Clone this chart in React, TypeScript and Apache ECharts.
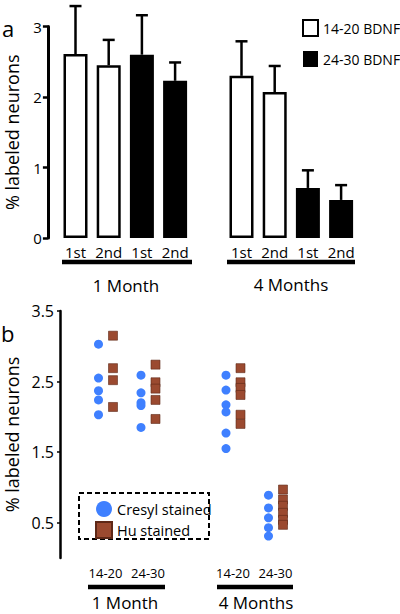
import React, { useEffect, useRef } from "react";
import * as echarts from "echarts";

// ---- Panel a data ----
const sessions = ["1st", "2nd", "1st", "2nd", "", "1st", "2nd", "1st", "2nd"];
const bdnfGroups = ["14-20 BDNF", "24-30 BDNF"];
const ages = ["1 Month", "4 Months"];
// slot indices for each group's bars: [1M 1st, 1M 2nd, 4M 1st, 4M 2nd]
const slots1420 = [0, 1, 5, 6];
const slots2430 = [2, 3, 7, 8];
const mean1420 = [2.61, 2.45, 2.3, 2.07];
const sem1420 = [0.68, 0.36, 0.49, 0.37];
const mean2430 = [2.6, 2.23, 0.71, 0.54];
const sem2430 = [0.56, 0.26, 0.25, 0.21];
const yTicksA = [0, 1, 2, 3];

// ---- Panel b data ----
const ageGroupSlots = ["1M|14-20", "1M|24-30", "", "4M|14-20", "4M|24-30"];
const cresyl = [
  [3.03, 2.55, 2.37, 2.24, 2.03],
  [2.59, 2.34, 2.2, 2.16, 1.85],
  [],
  [2.59, 2.38, 2.17, 2.07, 1.77, 1.55],
  [0.89, 0.71, 0.57, 0.43, 0.31],
];
const hu = [
  [3.15, 2.69, 2.52, 2.14],
  [2.74, 2.49, 2.4, 2.24, 1.97],
  [],
  [2.69, 2.49, 2.41, 2.31, 2.03, 1.9],
  [0.97, 0.83, 0.74, 0.64, 0.54, 0.47],
];
const yTicksB = [0.5, 1.5, 2.5, 3.5];
const stainNames = ["Cresyl stained", "Hu stained"];

const FONT = "'Open Sans', 'Noto Sans', sans-serif";
const BLUE = "#3f80ff";
const BROWN = "#9b4a30";

export default function App() {
  const ref = useRef<HTMLDivElement>(null);
  useEffect(() => {
    if (!ref.current) return;
    const chart = echarts.init(ref.current, undefined, { renderer: "svg" });

    const barData = (slots: number[], vals: number[]) =>
      sessions.map((_, i) => {
        const k = slots.indexOf(i);
        return k >= 0 ? vals[k] : "-";
      });
    const errData: number[][] = [];
    slots1420.forEach((s, k) => errData.push([s, mean1420[k], mean1420[k] + sem1420[k]]));
    slots2430.forEach((s, k) => errData.push([s, mean2430[k], mean2430[k] + sem2430[k]]));

    const scatterData = (arr: number[][]) => {
      const out: any[] = [];
      arr.forEach((vals, i) => vals.forEach((v) => out.push([i, v])));
      return out;
    };

    const txt = (text: string, x: number, y: number, size: number, align = "center", base = "middle") => ({
      type: "text",
      x,
      y,
      style: { text, fill: "#000", font: `${size}px ${FONT}`, align, verticalAlign: base },
    });
    const hline = (x1: number, x2: number, y: number) => ({
      type: "line",
      shape: { x1, y1: y, x2, y2: y },
      style: { stroke: "#000", lineWidth: 4.5 },
    });

    chart.setOption({
      animation: false,
      backgroundColor: "#fff",
      textStyle: { fontFamily: FONT, color: "#000" },
      grid: [
        { left: 58.9, top: 26.5, width: 298.8, height: 211.5, containLabel: false, outerBoundsMode: "none" },
        { left: 84.25, top: 311, width: 212.5, height: 247, containLabel: false, outerBoundsMode: "none" },
      ],
      legend: [
        {
          orient: "vertical",
          left: 297,
          top: 14,
          itemWidth: 15,
          itemHeight: 16,
          itemGap: 14,
          selectedMode: false,
          textStyle: { fontSize: 14, color: "#000", fontFamily: FONT },
          data: [
            { name: bdnfGroups[0], icon: "rect", itemStyle: { color: "#fff", borderColor: "#000", borderWidth: 2 } },
            { name: bdnfGroups[1], icon: "rect", itemStyle: { color: "#000", borderColor: "#000", borderWidth: 0 } },
          ],
        },
        {
          orient: "vertical",
          left: 90,
          top: 496,
          itemWidth: 16,
          itemHeight: 16,
          itemGap: 4,
          selectedMode: false,
          textStyle: { fontSize: 14.5, color: "#000", fontFamily: FONT },
          data: [
            { name: stainNames[0], icon: "circle" },
            { name: stainNames[1], icon: "rect" },
          ],
        },
      ],
      xAxis: [
        {
          type: "category",
          gridIndex: 0,
          data: sessions.map((s, i) => `${i}|${s}`),
          axisLine: { show: false },
          axisTick: { show: false },
          axisLabel: {
            interval: 0,
            margin: 6,
            fontSize: 15,
            color: "#000",
            fontFamily: FONT,
            formatter: (v: string) => v.split("|")[1],
          },
        },
        {
          type: "category",
          gridIndex: 1,
          data: ageGroupSlots.map((s, i) => `${i}#${s}`),
          axisLine: { show: false },
          axisTick: { show: false },
          axisLabel: {
            interval: 0,
            margin: 8,
            fontSize: 13,
            fontWeight: 500,
            color: "#000",
            fontFamily: FONT,
            formatter: (v: string) => {
              const p = v.split("#")[1];
              return p ? p.split("|")[1] : "";
            },
          },
        },
      ],
      yAxis: [
        {
          type: "value",
          gridIndex: 0,
          min: yTicksA[0],
          max: yTicksA[yTicksA.length - 1],
          interval: 1,
          offset: 11,
          name: "% labeled neurons",
          nameLocation: "middle",
          nameGap: 27,
          nameTextStyle: { fontSize: 18, color: "#000", fontFamily: FONT },
          axisLine: { show: true, lineStyle: { color: "#000", width: 3 } },
          axisTick: { show: true, length: 5, lineStyle: { color: "#000", width: 2.5 } },
          axisLabel: { margin: 6, fontSize: 15, color: "#000", fontFamily: FONT },
          splitLine: { show: false },
        },
        {
          type: "value",
          gridIndex: 1,
          min: 0,
          max: 3.5,
          interval: 0.5,
          offset: 24.25,
          name: "% labeled neurons",
          nameLocation: "middle",
          nameGap: 38,
          nameTextStyle: { fontSize: 18, color: "#000", fontFamily: FONT },
          axisLine: { show: true, lineStyle: { color: "#000", width: 2.5 } },
          axisTick: { show: true, length: 3, customValues: yTicksB, lineStyle: { color: "#000", width: 1.5 } },
          axisLabel: { margin: 6, fontSize: 16, color: "#000", fontFamily: FONT, customValues: yTicksB },
          splitLine: { show: false },
        },
      ],
      series: [
        {
          name: bdnfGroups[0],
          type: "bar",
          xAxisIndex: 0,
          yAxisIndex: 0,
          barWidth: 24,
          barGap: "-100%",
          data: barData(slots1420, mean1420),
          itemStyle: { color: "#fff", borderColor: "#000", borderWidth: 2.5 },
        },
        {
          name: bdnfGroups[1],
          type: "bar",
          xAxisIndex: 0,
          yAxisIndex: 0,
          barWidth: 24,
          barGap: "-100%",
          data: barData(slots2430, mean2430),
          itemStyle: { color: "#000", borderColor: "#000", borderWidth: 0 },
        },
        {
          type: "custom",
          xAxisIndex: 0,
          yAxisIndex: 0,
          clip: false,
          z: 3,
          encode: { x: 0, y: [1, 2] },
          data: errData,
          renderItem: (params: any, api: any) => {
            const x = api.value(0);
            const p0 = api.coord([x, api.value(1)]);
            const p1 = api.coord([x, api.value(2)]);
            return {
              type: "group",
              children: [
                { type: "line", shape: { x1: p0[0], y1: p0[1], x2: p1[0], y2: p1[1] }, style: { stroke: "#000", lineWidth: 2.5 } },
                { type: "line", shape: { x1: p1[0] - 6, y1: p1[1], x2: p1[0] + 6, y2: p1[1] }, style: { stroke: "#000", lineWidth: 2.5 } },
              ],
            };
          },
        },
        {
          name: stainNames[0],
          type: "scatter",
          xAxisIndex: 1,
          yAxisIndex: 1,
          symbol: "circle",
          symbolSize: 9,
          symbolOffset: [-7, 0],
          data: scatterData(cresyl),
          itemStyle: { color: BLUE, opacity: 1 },
        },
        {
          name: stainNames[1],
          type: "scatter",
          xAxisIndex: 1,
          yAxisIndex: 1,
          symbol: "rect",
          symbolSize: 9,
          symbolOffset: [7.5, 0],
          data: scatterData(hu),
          itemStyle: { color: BROWN, borderColor: "#5e2817", borderWidth: 0.6, opacity: 1 },
        },
      ],
      graphic: [
        txt("a", 2, 17, 22, "left", "alphabetic"),
        txt("b", 1, 322, 22, "left", "alphabetic"),
        hline(62, 192, 262),
        hline(227, 355, 262),
        txt(ages[0], 126, 285, 17),
        txt(ages[1], 291, 284, 17),
        hline(88, 165, 587),
        hline(217, 293, 587),
        txt(ages[0], 125, 602, 17),
        txt(ages[1], 256, 602, 17),
        {
          type: "rect",
          shape: { x: 79, y: 493, width: 130, height: 46 },
          style: { fill: "none", stroke: "#000", lineWidth: 2, lineDash: [5, 3] },
        },
      ],
    });
    return () => chart.dispose();
  }, []);
  return <div ref={ref} style={{ position: "absolute", left: 0, top: 0, width: 400, height: 614 }} />;
}
